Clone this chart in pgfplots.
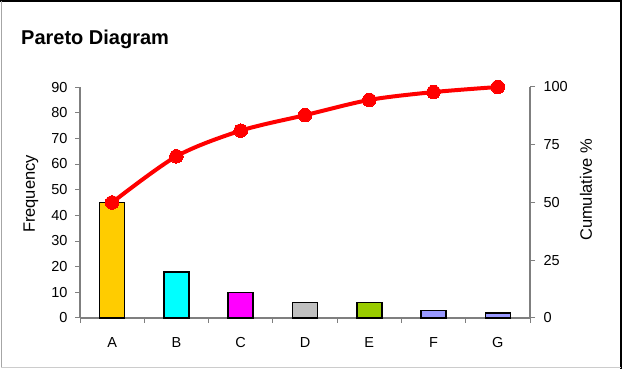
\documentclass[border=0pt]{standalone}
\usepackage{pgfplots}
\pgfplotsset{compat=1.18}
\usepackage{fontspec}
\setmainfont{Liberation Sans}
\definecolor{barA}{HTML}{FFCC00}
\definecolor{barB}{HTML}{00FFFF}
\definecolor{barC}{HTML}{FF00FF}
\definecolor{barD}{HTML}{C0C0C0}
\definecolor{barE}{HTML}{99CC00}
\definecolor{barF}{HTML}{9999FF}
\definecolor{axgray}{HTML}{7F7F7F}
\begin{document}
\begin{tikzpicture}[x=1pt,y=1pt]
\path[use as bounding box] (0,0) rectangle (624,372);
\fill[white] (0,0) rectangle (624,372);
\draw[black, line width=2pt] (0,371) -- (622,371);
\draw[black, line width=2.5pt] (621,372) -- (621,3);
\draw[gray!70, line width=1pt] (1.5,371) -- (1.5,4);
\draw[gray!40, line width=1pt] (1,4) -- (621,4);
\node[anchor=base west, inner sep=0, font=\fontsize{20}{24}\selectfont\bfseries] at (21,327) {Pareto Diagram};
\node[rotate=90, inner sep=0, font=\fontsize{16.5}{19}\selectfont] at (31,178) {Frequency};
\node[rotate=90, inner sep=0, font=\fontsize{16.5}{19}\selectfont] at (586,182) {Cumulative \%};
\begin{axis}[
  at={(80pt,54pt)}, anchor=south west,
  width=450pt, height=231pt, scale only axis,
  xmin=-0.5, xmax=6.5, ymin=0, ymax=90,
  axis x line*=bottom, axis y line*=left,
  axis line style={-, draw=axgray, line width=1.2pt},
  ytick={0,10,...,90},
  xtick={-0.5,0.5,1.5,2.5,3.5,4.5,5.5,6.5}, xticklabels={},
  extra x ticks={0,1,2,3,4,5,6},
  extra x tick labels={A,B,C,D,E,F,G},
  extra x tick style={major tick length=0pt, xticklabel style={yshift=-16pt}},
  tick align=outside, major tick length=5pt,
  tick style={axgray, line width=1pt},
  ticklabel style={font=\fontsize{14.5}{17}\selectfont},
  yticklabel style={xshift=-4pt},
  /pgf/number format/assume math mode=true,
  clip=false,
]
\addplot[ybar, bar width=25pt, fill=barA, draw=black, line width=1.5pt] coordinates {(0,45)};
\addplot[ybar, bar width=25pt, fill=barB, draw=black, line width=1.5pt] coordinates {(1,18)};
\addplot[ybar, bar width=25pt, fill=barC, draw=black, line width=1.5pt] coordinates {(2,10)};
\addplot[ybar, bar width=25pt, fill=barD, draw=black, line width=1.5pt] coordinates {(3,6)};
\addplot[ybar, bar width=25pt, fill=barE, draw=black, line width=1.5pt] coordinates {(4,6)};
\addplot[ybar, bar width=25pt, fill=barF, draw=black, line width=1.5pt] coordinates {(5,3)};
\addplot[ybar, bar width=25pt, fill=barF, draw=black, line width=1.5pt] coordinates {(6,2)};
\end{axis}
\begin{axis}[
  at={(80pt,54pt)}, anchor=south west,
  width=450pt, height=231pt, scale only axis,
  xmin=-0.5, xmax=6.5, ymin=0, ymax=100,
  axis x line=none, axis y line*=right,
  axis line style={-, draw=axgray, line width=1.2pt},
  ytick={0,25,50,75,100},
  tick align=outside, major tick length=5pt,
  tick style={axgray, line width=1pt},
  ticklabel style={font=\fontsize{14.5}{17}\selectfont},
  yticklabel style={xshift=5pt},
  /pgf/number format/assume math mode=true,
  clip=false,
]
\addplot[red, line width=4pt, smooth, mark=*, mark size=6.8pt, mark options={fill=red, draw=red, line width=0pt}]
  coordinates {(0,50) (1,70) (2,81.1) (3,87.8) (4,94.4) (5,97.8) (6,100)};
\end{axis}
\end{tikzpicture}
\end{document}
